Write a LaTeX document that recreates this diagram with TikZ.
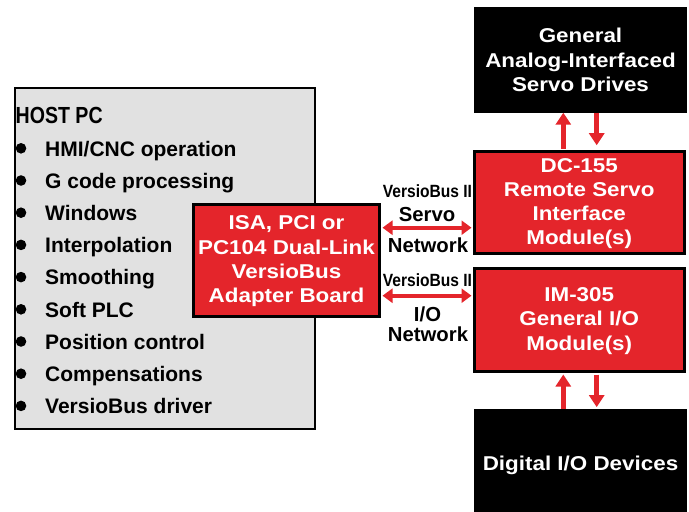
\documentclass[tikz,border=0pt]{standalone}
\usepackage{fontspec}
\setmainfont{Liberation Sans}
\newfontfamily\widefam[FakeStretch=1.12]{Liberation Sans}
\newfontfamily\titlefam[FakeStretch=0.84]{Liberation Sans}
\newfontfamily\busfam[FakeStretch=0.88]{Liberation Sans}
\usetikzlibrary{arrows.meta}
\definecolor{boxred}{RGB}{228,37,43}
\definecolor{hostgray}{RGB}{225,225,225}
\begin{document}
\begin{tikzpicture}[x=1pt,y=-1pt,
  hostbox/.style={draw=black, line width=2pt, fill=hostgray, inner sep=0pt},
  redbox/.style={draw=black, line width=3pt, fill=boxred, inner sep=0pt},
  blackbox/.style={fill=black, inner sep=0pt},
  boxtext/.style={text=white, align=center, inner sep=0pt, font=\widefam\bfseries\fontsize{20}{24.3}\selectfont},
  itemtext/.style={anchor=base west, inner sep=0pt, font=\bfseries\fontsize{21}{24}\selectfont},
  bustext/.style={anchor=base, inner sep=0pt, font=\busfam\bfseries\fontsize{17.7}{20}\selectfont},
  nettext/.style={anchor=base, inner sep=0pt, font=\bfseries\fontsize{20.3}{24}\selectfont},
  netarrow/.style={draw=boxred, line width=4.3pt, {Triangle[length=10pt,width=14pt]}-{Triangle[length=10pt,width=14pt]}},
  vertarrow/.style={draw=boxred, line width=5.3pt, -{Triangle[length=12pt,width=15pt]}}
]
\useasboundingbox (0,0) rectangle (689,512);

% Host PC
\node[hostbox, minimum width=300pt, minimum height=341.5pt] (host) at (164.5,258.25) {};
\node[anchor=base west, inner sep=0pt, font=\titlefam\bfseries\fontsize{23.3}{26}\selectfont] (title) at (15.5,123.3) {HOST PC};
\foreach \t [count=\i from 0] in {HMI/CNC operation, G code processing, Windows, Interpolation, Smoothing, Soft PLC, Position control, Compensations, VersioBus driver}{
  \node[itemtext] (item\i) at (45,156+32.2*\i) {\t};
  \fill (21,148.3+32.2*\i) circle (5.3pt);
}

% Adapter board
\node[redbox, minimum width=186pt, minimum height=111.5pt] (adapter) at (286.5,260.25) {};
\node[boxtext] (adaptertext) at (286.5,261.5) {ISA, PCI or\\PC104 Dual-Link\\VersioBus\\Adapter Board};

% Right side boxes
\node[blackbox, minimum width=213pt, minimum height=105.5pt] (drives) at (580.5,59.75) {};
\node[boxtext, font=\widefam\bfseries\fontsize{20}{24.5}\selectfont] (drivestext) at (580.5,60) {General\\Analog-Interfaced\\Servo Drives};

\node[redbox, minimum width=209.5pt, minimum height=102pt] (dc) at (579.25,202.5) {};
\node[boxtext, font=\widefam\bfseries\fontsize{20}{24}\selectfont] (dctext) at (579.25,204) {DC-155\\Remote Servo\\Interface\\Module(s)};

\node[redbox, minimum width=209.5pt, minimum height=103pt] (im) at (579.25,320) {};
\node[boxtext, font=\widefam\bfseries\fontsize{20}{24.5}\selectfont] (imtext) at (579.25,321) {IM-305\\General I/O\\Module(s)};

\node[blackbox, minimum width=213pt, minimum height=103pt] (digital) at (580.5,460.5) {};
\node[boxtext, anchor=base] (digitaltext) at (580.5,470.7) {Digital I/O Devices};

% Network labels
\node[bustext] (bus1) at (427.5,197.7) {VersioBus II};
\node[nettext] (servo) at (427,221) {Servo};
\node[nettext] (net1) at (428,252.3) {Network};
\node[bustext] (bus2) at (427.5,286.7) {VersioBus II};
\node[nettext] (io) at (427.5,321) {I/O};
\node[nettext] (net2) at (428,341) {Network};

% Connectors
\coordinate (sy) at (0,227.7);
\coordinate (iy) at (0,295.7);
\coordinate (ux) at (563.3,0);
\coordinate (dx) at (596.7,0);
\draw[netarrow, shorten <=1.5pt, shorten >=1.5pt] (adapter.east |- sy) -- (dc.west |- sy);
\draw[netarrow, shorten <=1.5pt, shorten >=1.5pt] (adapter.east |- iy) -- (im.west |- iy);
\draw[vertarrow, shorten <=1.5pt] (dc.north -| ux) -- (drives.south -| ux);
\draw[vertarrow, shorten >=4.8pt] (drives.south -| dx) -- (dc.north -| dx);
\draw[vertarrow, shorten >=1.5pt] (digital.north -| ux) -- (im.south -| ux);
\draw[vertarrow, shorten <=1.5pt, shorten >=1.7pt] (im.south -| dx) -- (digital.north -| dx);
\end{tikzpicture}
\end{document}
